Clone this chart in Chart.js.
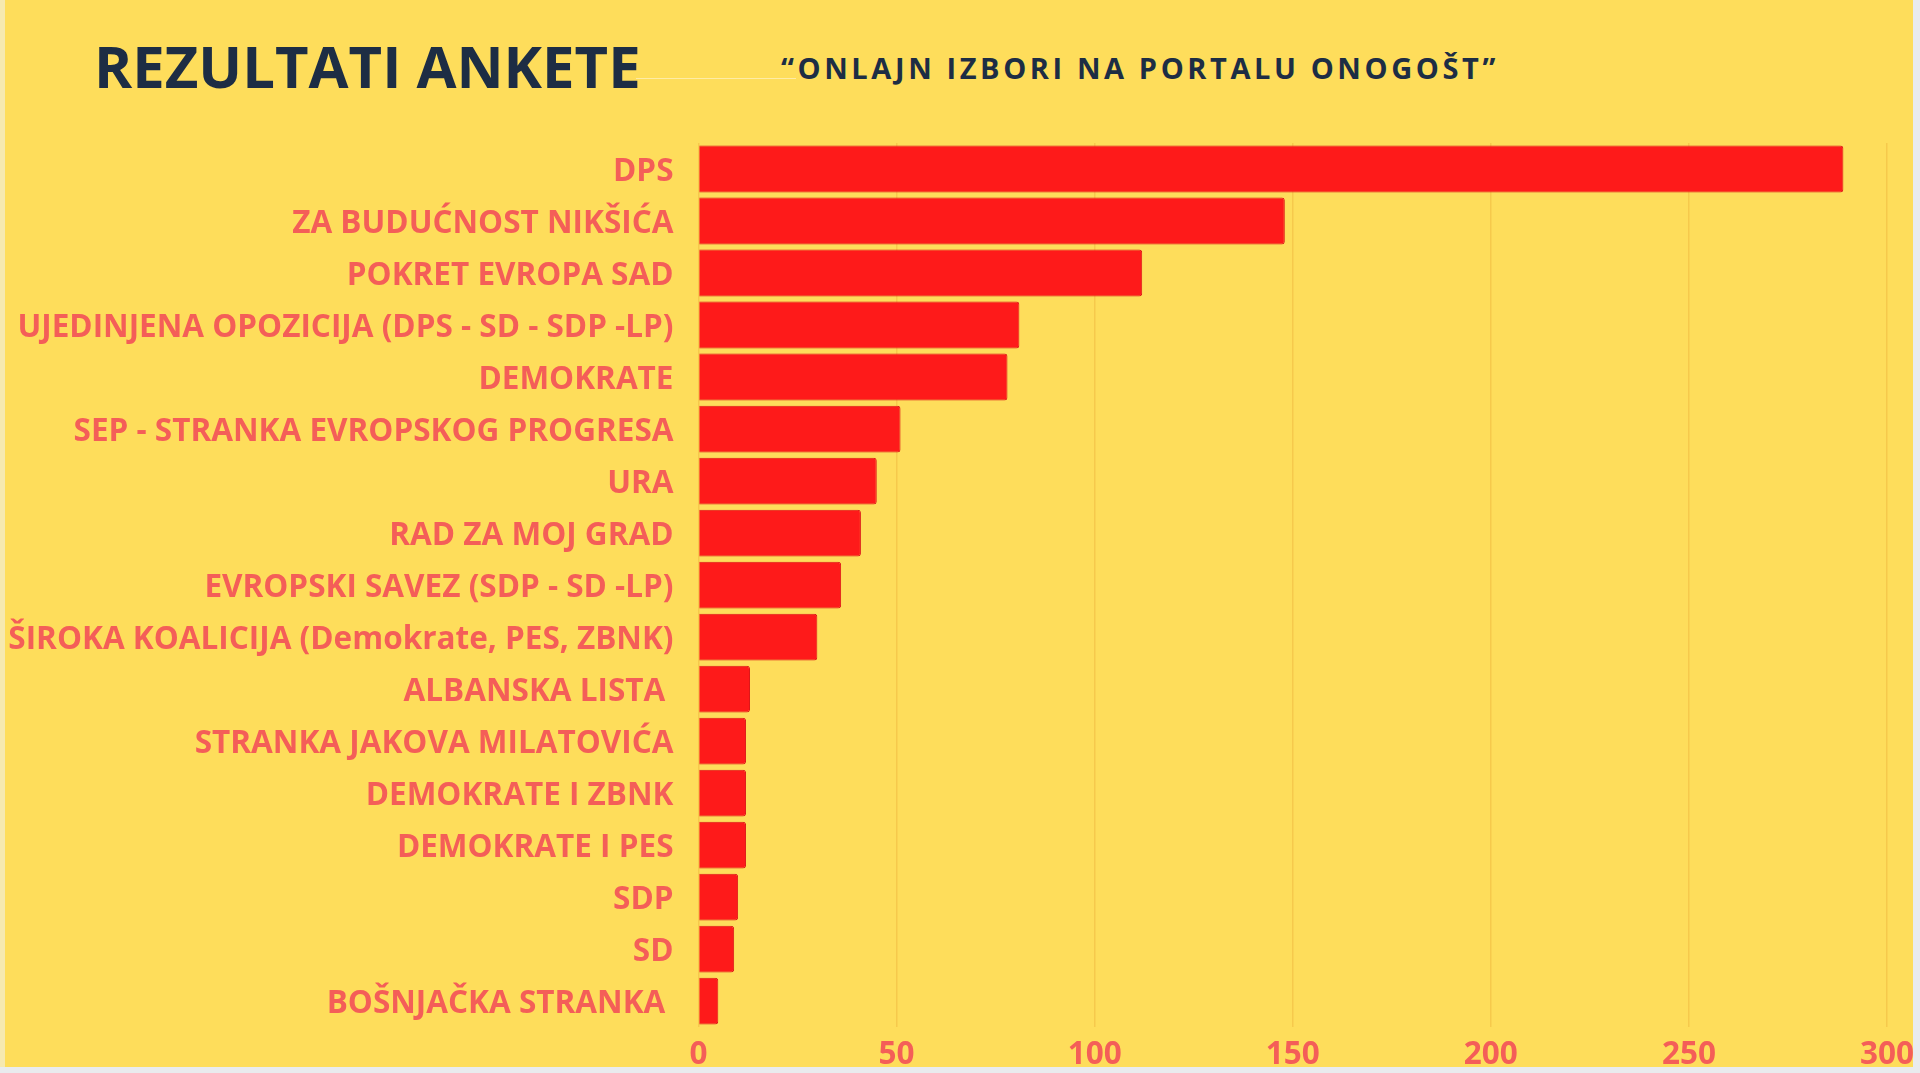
<!DOCTYPE html>
<html>
<head>
<meta charset="utf-8">
<script src="https://cdn.jsdelivr.net/npm/chart.js@4/dist/chart.umd.min.js"></script>
<style>
  html, body { margin: 0; padding: 0; background: #e9ebee; width: 1920px; height: 1073px; overflow: hidden; }
  #page { position: absolute; left: 0; top: 0; width: 1913px; height: 1067px; background: #fedd5b; }
  #edge { position: absolute; left: 0; top: 0; width: 5px; height: 1067px; background: #f6e9b0; }
  #title { position: absolute; left: 94px; top: 26px; font: 700 58px "Open Sans", sans-serif; color: #1d2d44; margin: 0; white-space: nowrap; }
  #subtitle { position: absolute; left: 781px; top: 48px; font: 700 29px/1.362 "Open Sans", sans-serif; letter-spacing: 3.6px; color: #1d2d44; white-space: nowrap; }
  #rule { position: absolute; left: 636px; top: 78px; width: 160px; height: 1px; background: rgba(255,255,255,0.45); }
  #wrap { position: absolute; left: 0; top: 0; width: 1923px; height: 1071px; }
</style>
</head>
<body>
<div id="page">
  <div id="edge"></div>
  <div id="rule"></div>
  <h1 id="title">REZULTATI ANKETE</h1>
  <div id="subtitle">“ONLAJN IZBORI NA PORTALU ONOGOŠT”</div>
  <div id="wrap"><canvas id="graf"></canvas></div>
</div>
<script>
// stranke i broj glasova
var stranke = [
  "DPS",
  "ZA BUDUĆNOST NIKŠIĆA",
  "POKRET EVROPA SAD",
  "UJEDINJENA OPOZICIJA (DPS - SD - SDP -LP)",
  "DEMOKRATE",
  "SEP - STRANKA EVROPSKOG PROGRESA",
  "URA",
  "RAD ZA MOJ GRAD",
  "EVROPSKI SAVEZ (SDP - SD -LP)",
  "ŠIROKA KOALICIJA (Demokrate, PES, ZBNK)",
  "ALBANSKA LISTA ",
  "STRANKA JAKOVA MILATOVIĆA",
  "DEMOKRATE I ZBNK",
  "DEMOKRATE I PES",
  "SDP",
  "SD",
  "BOŠNJAČKA STRANKA "
];
var glasovi = [289, 148, 112, 81, 78, 51, 45, 41, 36, 30, 13, 12, 12, 12, 10, 9, 5];
var skalaMin = 0;
var skalaMax = 300;
var korak = 50;

var labelColor = "#f45e58";
var labelFont = { family: "'Open Sans', sans-serif", size: 31.5, weight: "700" };

var ctx = document.getElementById("graf");

var graf = new Chart(ctx, {
  type: "bar",
  data: {
    labels: stranke,
    datasets: [{
      label: "Glasovi",
      data: glasovi,
      backgroundColor: "#fe1a1a",
      borderColor: "#dc1818",
      borderWidth: 1,
      borderRadius: 3,
      borderSkipped: "start",
      categoryPercentage: 1,
      barPercentage: 0.9
    }]
  },
  options: {
    indexAxis: "y",
    responsive: true,
    maintainAspectRatio: false,
    animation: false,
    layout: { padding: { left: 0, right: 35, top: 143, bottom: 0 } },
    plugins: {
      legend: { display: false },
      tooltip: { enabled: false }
    },
    scales: {
      x: {
        min: skalaMin,
        max: skalaMax,
        ticks: { stepSize: korak, color: labelColor, font: labelFont, padding: 9 },
        grid: { color: "rgba(225,150,40,0.28)", lineWidth: 1.5, drawTicks: false },
        border: { display: false },
        afterFit: function(scale) { scale.height = 40; }
      },
      y: {
        ticks: { color: labelColor, font: labelFont, padding: 25, autoSkip: false, labelOffset: 3 },
        grid: { display: false, drawTicks: false },
        border: { display: false },
        afterFit: function(scale) { scale.width = 698.5; }
      }
    }
  }
});
</script>
</body>
</html>
